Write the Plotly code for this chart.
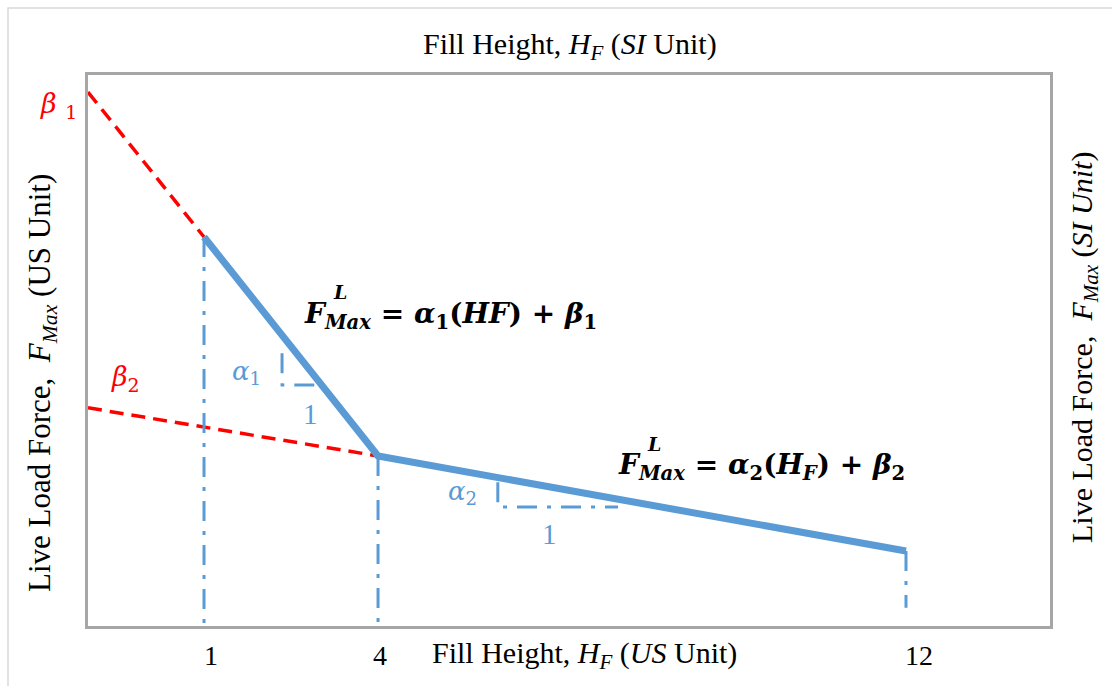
import plotly.graph_objects as go

# ---- schematic data (axis units 0..100 on both axes) ----
hf_labels = ["1", "4", "12"]          # H_F tick labels (US unit)
hf_pos = [12.06, 30.15, 85.03]        # schematic positions of the break points
f_break = [70.6, 30.85, 13.6]         # F_max at the break points
beta = [96.9, 39.6]                   # intercepts beta1, beta2 (at H_F = 0)
drop_end = [0.0, 0.0, 3.3]            # bottom end of the dash-dot drop lines
tri1_x = [20.17, 20.17, 23.7]         # slope triangle alpha1
tri1_y = [49.5, 43.74, 43.74]
tri2_x = [42.6, 42.6, 55.1]           # slope triangle alpha2
tri2_y = [26.1, 21.6, 21.6]

BLUE = "#5B9BD5"
RED = "#FF0000"
GRAY = "#A6A6A6"
SERIF = "Liberation Serif, Times New Roman, serif"
MATH = "DejaVu Serif, Cambria Math, serif"

W, H = 1112, 686
PL, PR, PT, PB = 88, 1050, 75, 626


def fx(xp):
    return (xp - PL) / (PR - PL)


def fy(yp):
    return (PB - yp) / (PB - PT)


fig = go.Figure()

# red dashed extensions to the intercepts
fig.add_trace(go.Scatter(x=[0, hf_pos[0]], y=[beta[0], f_break[0]], mode="lines",
                         line=dict(color=RED, width=3.5, dash="14px,8px"),
                         hoverinfo="skip", cliponaxis=False))
fig.add_trace(go.Scatter(x=[0, hf_pos[1]], y=[beta[1], f_break[1]], mode="lines",
                         line=dict(color=RED, width=3.5, dash="14px,8px"),
                         hoverinfo="skip", cliponaxis=False))

# dash-dot drop lines
for xv, yv, ye in zip(hf_pos, f_break, drop_end):
    fig.add_trace(go.Scatter(x=[xv, xv], y=[yv, ye], mode="lines",
                             line=dict(color=BLUE, width=3, dash="20px,10px,4px,10px"),
                             hoverinfo="skip", cliponaxis=False))

# slope triangles
fig.add_trace(go.Scatter(x=tri1_x, y=tri1_y, mode="lines",
                         line=dict(color=BLUE, width=3, dash="20px,10px,4px,10px"),
                         hoverinfo="skip"))
fig.add_trace(go.Scatter(x=tri2_x, y=tri2_y, mode="lines",
                         line=dict(color=BLUE, width=3, dash="20px,10px,4px,10px"),
                         hoverinfo="skip"))

# main bilinear line
fig.add_trace(go.Scatter(x=hf_pos, y=f_break, mode="lines",
                         line=dict(color=BLUE, width=7),
                         hoverinfo="skip", cliponaxis=False))

ann = []


def add_text(xp, ypix, text, size, color="black", family=SERIF, xanchor="center", yanchor="middle", angle=0):
    ann.append(dict(x=fx(xp), y=fy(ypix), xref="paper", yref="paper", text=text, showarrow=False,
                    font=dict(size=size, color=color, family=family),
                    xanchor=xanchor, yanchor=yanchor, textangle=angle))


# tick labels (placed under the drop lines)
tick_shift = [7, 2, 13]
for xv, lab, s in zip(hf_pos, hf_labels, tick_shift):
    ann.append(dict(x=xv / 100, y=fy(655), xref="paper", yref="paper", text=lab, showarrow=False,
                    xshift=s, font=dict(size=28, color="black", family=SERIF),
                    xanchor="center", yanchor="middle"))

# axis titles
add_text(584, 655, "Fill Height, <i>H</i><sub><i>F</i></sub> (<i>US</i> Unit)", 30)
add_text(570, 46, "Fill Height, <i>H</i><sub><i>F</i></sub> (<i>SI</i> Unit)", 30)
add_text(42, 383, "Live Load Force,  <i>F</i><sub><i>Max</i></sub> (US Unit)", 31, angle=-90)
add_text(1084, 348, "Live Load Force,  <i>F</i><sub><i>Max</i></sub> (<i>SI Unit</i>)", 30, angle=-90)

# intercept labels
add_text(58, 106, "<i>β</i> <sub>1</sub>", 27, color=RED, family=MATH)
add_text(125, 378, "<i>β</i><sub>2</sub>", 27, color=RED, family=MATH)

# slope labels
add_text(246, 373, "<i>α</i><sub>1</sub>", 26, color=BLUE, family=MATH)
add_text(310, 414, "1", 29, color=BLUE, family=SERIF)
add_text(462, 492, "<i>α</i><sub>2</sub>", 26, color=BLUE, family=MATH)
add_text(549, 534, "1", 29, color=BLUE, family=SERIF)

# equations
add_text(302, 315, "<b><i>F</i><sub><i>Max</i></sub> = <i>α</i><sub>1</sub>(<i>HF</i>) + <i>β</i><sub>1</sub></b>",
         28, family=MATH, xanchor="left")
add_text(331, 292, "<b><i>L</i></b>", 19, family=MATH, xanchor="left")
add_text(616, 467, "<b><i>F</i><sub><i>Max</i></sub> = <i>α</i><sub>2</sub>(<i>H</i><sub><i>F</i></sub>) + <i>β</i><sub>2</sub></b>",
         28, family=MATH, xanchor="left")
add_text(645, 444, "<b><i>L</i></b>", 19, family=MATH, xanchor="left")

fig.update_layout(
    width=W, height=H,
    margin=dict(l=PL, r=W - PR, t=PT, b=H - PB),
    paper_bgcolor="white", plot_bgcolor="white",
    showlegend=False,
    annotations=ann,
    shapes=[dict(type="rect", xref="paper", yref="paper",
                 x0=fx(8), x1=fx(W + 20),
                 y0=fy(H + 20), y1=fy(8),
                 line=dict(color="#D9D9D9", width=1.5), layer="below")],
)
fig.update_xaxes(range=[0, 100], showgrid=False, zeroline=False, showticklabels=False,
                 ticks="", showline=True, linecolor=GRAY, linewidth=3, mirror=True, fixedrange=True)
fig.update_yaxes(range=[0, 100], showgrid=False, zeroline=False, showticklabels=False,
                 ticks="", showline=True, linecolor=GRAY, linewidth=3, mirror=True, fixedrange=True)

fig.write_html("out.html")
